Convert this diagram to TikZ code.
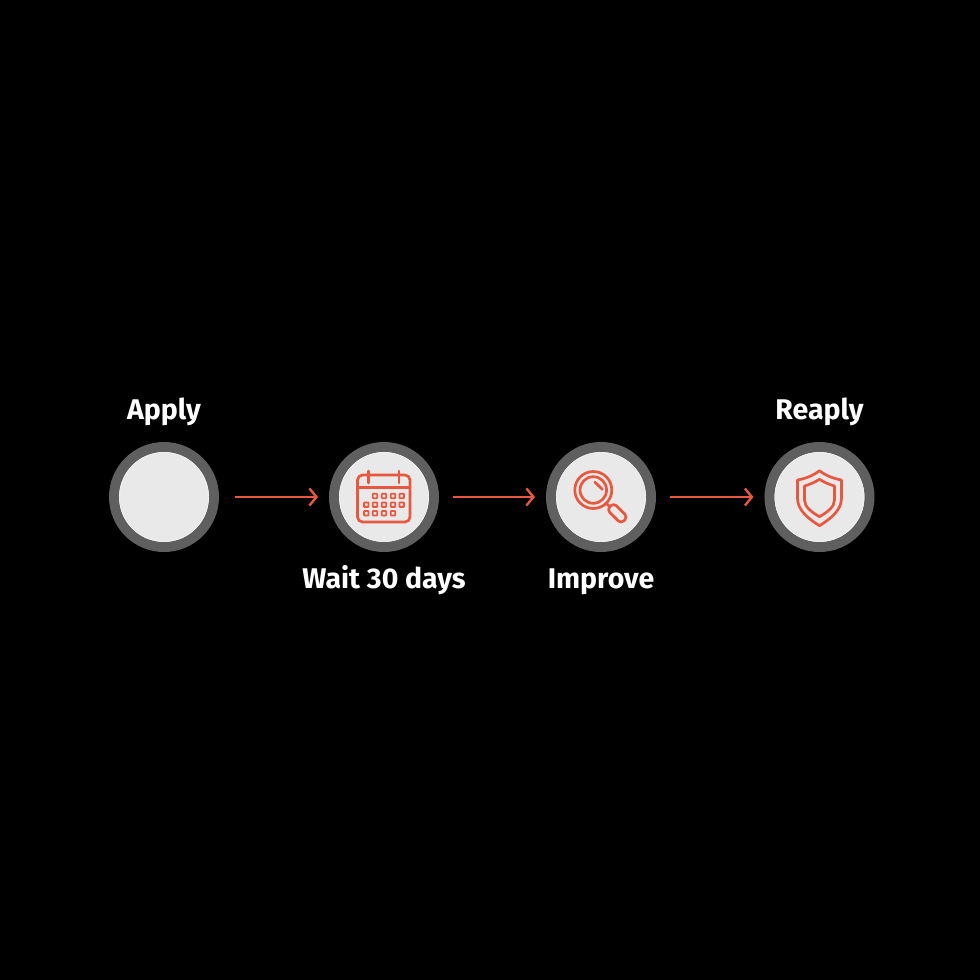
\documentclass[tikz,border=0pt]{standalone}
\usepackage{fontspec}
\setmainfont{Fira Sans}
\usetikzlibrary{arrows.meta,positioning}
\definecolor{ringgrey}{HTML}{5F5F5F}
\definecolor{diskgrey}{HTML}{E9E9E9}
\definecolor{iconred}{HTML}{E8583F}

\begin{document}
\begin{tikzpicture}[
  ringnode/.style={circle,draw=ringgrey,fill=diskgrey,line width=0.1cm,minimum size=1cm,inner sep=0pt},
  steplabel/.style={text=white,font=\fontsize{8.1pt}{9pt}\selectfont\bfseries,inner sep=0pt,text height=0.21cm,text depth=0.06cm},
  flowarrow/.style={draw=iconred,line width=0.024cm,-{Straight Barb[length=0.07cm,width=0.17cm,line width=0.024cm]}},
  iconline/.style={draw=iconred,line width=0.027cm,line join=round,line cap=round},
  iconbox/.style={draw=iconred,line width=0.018cm,rounded corners=0.005cm}]

\fill[black] (0,0) rectangle (9.8,9.8);

\node [ringnode] (apply) at (1.64,4.83) {};
\node [ringnode] (wait) at (3.84,4.83) {};
\node [ringnode] (improve) at (6.01,4.83) {};
\node [ringnode] (reply) at (8.195,4.83) {};

\foreach \n in {apply,wait,improve,reply}
  \draw[color=white!50!diskgrey,line width=0.006cm] (\n) circle (0.446);

\node [steplabel,above=0.16cm of apply] (applytext) {Apply};
\node [steplabel,below=0.15cm of wait] (waittext) {Wait 30 days};
\node [steplabel,below=0.15cm of improve] (improvetext) {Improve};
\node [steplabel,above=0.16cm of reply] (replytext) {Reaply};

\draw[flowarrow,shorten <=0.16cm,shorten >=0.11cm] (apply) -- (wait);
\draw[flowarrow,shorten <=0.14cm,shorten >=0.11cm] (wait) -- (improve);
\draw[flowarrow,shorten <=0.14cm,shorten >=0.11cm] (improve) -- (reply);

\begin{scope}[shift={(wait)},x=0.01cm,y=0.01cm]
\draw[iconline,rounded corners=0.05cm] (-26.5,-25) rectangle (26,22);
\draw[iconline] (-26.5,9.5) -- (26,9.5);
\draw[iconline] (-15.5,26) -- (-15.5,14);
\draw[iconline] (15,26) -- (15,14);
\foreach \x in {-9,0,9,17.7} \draw[iconbox] (\x-2.2,-1.2) rectangle (\x+2.2,3.2);
\foreach \x in {-17.7,-9,0,9,17.7} \draw[iconbox] (\x-2.2,-9.9) rectangle (\x+2.2,-5.5);
\foreach \x in {-17.7,-9,0,9} \draw[iconbox] (\x-2.2,-18.5) rectangle (\x+2.2,-14.1);
\end{scope}

\begin{scope}[shift={(improve)},x=0.01cm,y=0.01cm]
\draw[iconline] (-7.7,7) circle (18.5);
\draw[iconline] (-7.7,7) circle (13.3);
\draw[iconline] (-6.2,15) -- (1.5,7.5);
\draw[iconline] (5,-6) -- (9,-10);
\draw[iconline,rounded corners=0.04cm,rotate around={-45:(16.3,-16.3)}] (6.3,-21) rectangle (26.3,-11.6);
\end{scope}

\begin{scope}[shift={(reply)},x=0.01cm,y=0.01cm]
\draw[iconline] (0,26.3) .. controls (-7,21) and (-14,18.5) .. (-22,17) -- (-22,-1.5) .. controls (-22,-13) and (-11,-22) .. (0,-28.7) .. controls (11,-22) and (22,-13) .. (22,-1.5) -- (22,17) .. controls (14,18.5) and (7,21) .. cycle;
\draw[iconline] (0,17.7) .. controls (-5,14.5) and (-10,12.5) .. (-15,11) -- (-15,-3) .. controls (-15,-10) and (-8,-15) .. (0,-19.7) .. controls (8,-15) and (15,-10) .. (15,-3) -- (15,11) .. controls (10,12.5) and (5,14.5) .. cycle;
\end{scope}

\end{tikzpicture}
\end{document}
